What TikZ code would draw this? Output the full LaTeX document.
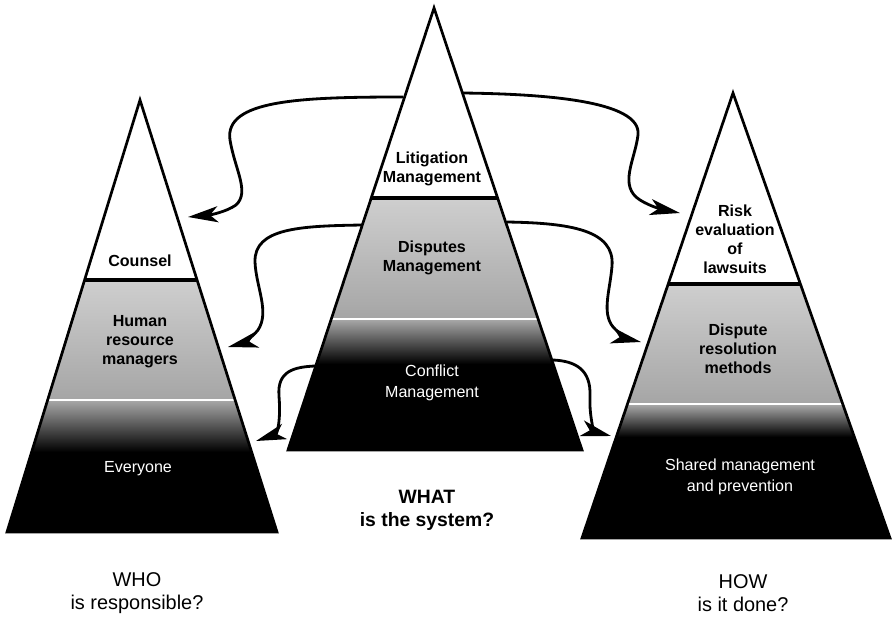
\documentclass[tikz,border=0pt]{standalone}
\usepackage{fontspec}
\setmainfont{Liberation Sans}
\usetikzlibrary{arrows.meta}

\begin{document}
\begin{tikzpicture}[x=0.03cm, y=-0.03cm,
            lbl/.style={font=\fontsize{13.7}{16.3}\selectfont\bfseries, align=center, inner sep=0pt},
            wlbl/.style={font=\fontsize{13.7}{17.5}\selectfont, text=white, align=center, inner sep=0pt},
            question/.style={font=\fontsize{17}{19.5}\selectfont, align=center, inner sep=0pt},
            rim/.style={line width=2.3pt, line join=miter},
            sep/.style={line width=3pt},
            link/.style={line width=2.4pt, -{Stealth[length=9mm, width=4.8mm, inset=2.4mm]}}]
                \useasboundingbox (0, 0) rectangle (895, 618);

                % corners of the three pyramids
                \coordinate(wTop) at (140, 100);  \coordinate(wL) at (7, 532);   \coordinate(wR) at (277, 532);
                \coordinate(sTop) at (434, 8);    \coordinate(sL) at (288, 450); \coordinate(sR) at (582, 450);
                \coordinate(hTop) at (733, 93);   \coordinate(hL) at (582, 538); \coordinate(hR) at (890, 538);

                % WHO
                \begin{scope}
                    \clip (wTop) -- (wL) -- (wR) -- cycle;
                    \fill[white] (0, 90) rectangle (300, 280);
                    \shade[top color=gray!38, bottom color=gray!70] (0, 280) rectangle (300, 399);
                    \fill[black] (0, 401) rectangle (300, 540);
                    \shade[top color=gray!70, bottom color=black] (0, 401) rectangle (300, 452);
                    \draw[sep] (0, 280) -- (300, 280);
                    \draw[white, line width=1pt] (0, 400) -- (300, 400);
                \end{scope}
                \draw[rim] (wTop) -- (wL) -- (wR) -- cycle;

                % WHAT
                \begin{scope}
                    \clip (sTop) -- (sL) -- (sR) -- cycle;
                    \fill[white] (280, 0) rectangle (600, 198);
                    \shade[top color=gray!38, bottom color=gray!70] (280, 198) rectangle (600, 318);
                    \fill[black] (280, 320) rectangle (600, 460);
                    \shade[top color=gray!70, bottom color=black] (280, 320) rectangle (600, 364);
                    \draw[sep] (280, 198) -- (600, 198);
                    \draw[white, line width=1pt] (280, 319) -- (600, 319);
                \end{scope}
                \draw[rim] (sTop) -- (sL) -- (sR) -- cycle;

                % HOW
                \begin{scope}
                    \clip (hTop) -- (hL) -- (hR) -- cycle;
                    \fill[white] (570, 80) rectangle (895, 284);
                    \shade[top color=gray!38, bottom color=gray!70] (570, 284) rectangle (895, 403);
                    \fill[black] (570, 405) rectangle (895, 545);
                    \shade[top color=gray!70, bottom color=black] (570, 405) rectangle (895, 437);
                    \draw[sep] (570, 284) -- (895, 284);
                    \draw[white, line width=1pt] (570, 404) -- (895, 404);
                \end{scope}
                \draw[rim] (hTop) -- (hL) -- (hR) -- cycle;

                \node[lbl](counsel) at (140, 261) {Counsel};
                \node[lbl](hrm) at (140, 342) {Human\\resource\\managers};
                \node[wlbl](everyone) at (138, 469) {Everyone};

                \node[lbl](litig) at (432, 169) {Litigation\\Management};
                \node[lbl](disputes) at (432, 258) {Disputes\\Management};
                \node[wlbl](conflict) at (432, 383) {Conflict\\Management};

                \node[lbl](risk) at (735, 239) {Risk\\evaluation\\of\\lawsuits};
                \node[lbl](adr) at (738, 349) {Dispute\\resolution\\methods};
                \node[wlbl](shared) at (740, 477) {Shared management\\and prevention};

                \node[question](who) at (137, 593) {WHO\\is responsible?};
                \node[question, font=\fontsize{16.5}{19.5}\selectfont\bfseries](what) at (427, 510) {WHAT\\is the system?};
                \node[question](how) at (743, 593) {HOW\\is it done?};

            % arrow ends on the pyramid sides
            \coordinate(a1) at (403, 97);  \coordinate(b1) at (188, 217);
            \coordinate(a2) at (463, 93);  \coordinate(b2) at (680, 213);
            \coordinate(a3) at (362, 225); \coordinate(b3) at (228, 347);
            \coordinate(a4) at (507, 222); \coordinate(b4) at (641, 342);
            \coordinate(a5) at (315, 366); \coordinate(b5) at (256, 441);
            \coordinate(a6) at (553, 360); \coordinate(b6) at (611, 436);

            \begin{scope}[link]
                \draw (a1) .. controls (300, 97) and (224, 100) .. (230, 140)
                           .. controls (235, 170) and (250, 192) .. (236, 205)
                           .. controls (226, 212) and (210, 215) .. (b1);
                \draw (a2) .. controls (540, 94) and (642, 100) .. (638, 135)
                           .. controls (635, 160) and (618, 186) .. (640, 200)
                           .. controls (651, 207) and (665, 210) .. (b2);
                \draw (a3) .. controls (300, 226) and (254, 228) .. (255, 262)
                           .. controls (256, 287) and (270, 312) .. (258, 330)
                           .. controls (251, 339) and (240, 344) .. (b3);
                \draw (a4) .. controls (570, 223) and (615, 230) .. (612, 266)
                           .. controls (610, 292) and (600, 316) .. (616, 330)
                           .. controls (624, 337) and (632, 340) .. (b4);
                \draw (a5) .. controls (294, 367) and (277, 371) .. (279, 396)
                           .. controls (281, 421) and (277, 434) .. (b5);
                \draw (a6) .. controls (576, 361) and (591, 370) .. (590, 396)
                           .. controls (589, 421) and (596, 432) .. (b6);
            \end{scope}
        \end{tikzpicture}
\end{document}
